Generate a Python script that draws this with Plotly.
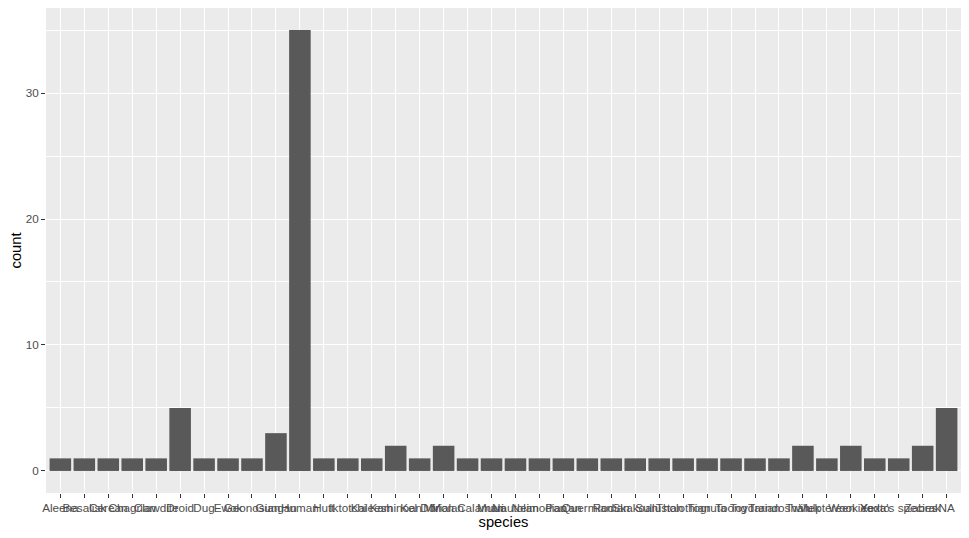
import plotly.graph_objects as go

species = ["Aleena", "Besalisk", "Cerean", "Chagrian", "Clawdite", "Droid", "Dug", "Ewok",
           "Geonosian", "Gungan", "Human", "Hutt", "Iktotchi", "Kaleesh", "Kaminoan", "Kel Dor",
           "Mirialan", "Mon Calamari", "Muun", "Nautolan", "Neimodian", "Pau'an", "Quermian",
           "Rodian", "Skakoan", "Sullustan", "Tholothian", "Togruta", "Toong", "Toydarian",
           "Trandoshan", "Twi'lek", "Vulptereen", "Wookiee", "Xexto", "Yoda's species",
           "Zabrak", "NA"]
counts = [1, 1, 1, 1, 1, 5, 1, 1, 1, 3, 35, 1, 1, 1, 2, 1, 2, 1, 1, 1, 1, 1, 1, 1, 1, 1,
          1, 1, 1, 1, 1, 2, 1, 2, 1, 1, 2, 5]
y_ticks = [0, 10, 20, 30]

fig = go.Figure(go.Bar(x=species, y=counts, marker=dict(color="#595959", line=dict(width=0)),
                       width=0.9))

ymax = max(counts)
fig.update_layout(
    width=961, height=530,
    margin=dict(l=38, r=8, t=0, b=45),
    paper_bgcolor="white", plot_bgcolor="#EBEBEB",
    font=dict(family="Liberation Sans, Arial, sans-serif", color="#4D4D4D", size=11.7),
    showlegend=False,
    bargap=0.1,
)
fig.update_xaxes(
    type="category", categoryorder="array", categoryarray=species,
    range=[-0.6, len(species) - 0.4],
    showgrid=True, gridcolor="white", gridwidth=1.1,
    ticks="outside", ticklen=4, tickcolor="#333333", tickwidth=1.1,
    tickangle=0, tickfont=dict(size=11.7, color="#4D4D4D"),
    title=dict(text="species", font=dict(size=14.7, color="black"), standoff=2),
    zeroline=False, showline=False, automargin=False,
)
fig.update_yaxes(
    range=[-0.05 * ymax, ymax * 1.05],
    tickvals=y_ticks,
    showgrid=True, gridcolor="white", gridwidth=1.1,
    minor=dict(tickvals=[5, 15, 25, 35], showgrid=True, gridcolor="white", gridwidth=0.55, ticks=""),
    ticks="outside", ticklen=4, tickcolor="#333333", tickwidth=1.1,
    tickfont=dict(size=11.7, color="#4D4D4D"),
    title=dict(text="count", font=dict(size=14.7, color="black"), standoff=6),
    zeroline=False, showline=False, automargin=False,
)
fig.write_html("out.html")
